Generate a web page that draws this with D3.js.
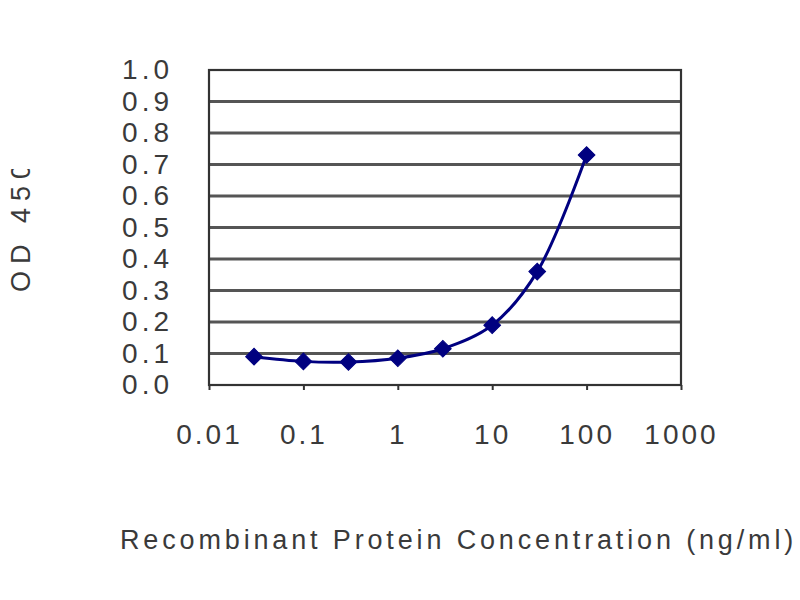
<!DOCTYPE html>
<html>
<head>
<meta charset="utf-8">
<script src="https://cdn.jsdelivr.net/npm/d3@7"></script>
<style>
  body { margin: 0; background: #fff; }
  svg { font-family: "Liberation Sans", Arial, sans-serif; }
  .tick text { fill: #3a3a3a; }
</style>
</head>
<body>
<svg id="chart" width="800" height="600"></svg>
<script>
// concentrations (ng/ml) and OD readings
const concentrations = [0.03, 0.1, 0.3, 1, 3, 10, 30, 100];
const odValues = [0.09, 0.075, 0.073, 0.085, 0.115, 0.19, 0.36, 0.73];
const xTicks = [0.01, 0.1, 1, 10, 100, 1000];
const yTicks = [0, 0.1, 0.2, 0.3, 0.4, 0.5, 0.6, 0.7, 0.8, 0.9, 1.0];

const plotLeft = 209, plotRight = 681, plotTop = 70, plotBottom = 385;
const svg = d3.select('#chart');

const x = d3.scaleLog().domain([0.01, 1000]).range([plotLeft, plotRight]);
const y = d3.scaleLinear().domain([0, 1]).range([plotBottom, plotTop]);

// grid lines
svg.append('g')
  .selectAll('line')
  .data(yTicks.slice(1, -1))
  .enter()
  .append('line')
  .attr('x1', plotLeft).attr('x2', plotRight)
  .attr('y1', d => y(d)).attr('y2', d => y(d))
  .attr('stroke', '#555')
  .attr('stroke-width', 2.8);

// frame
svg.append('rect')
  .attr('x', plotLeft).attr('y', plotTop)
  .attr('width', plotRight - plotLeft).attr('height', plotBottom - plotTop)
  .attr('fill', 'none')
  .attr('stroke', '#333')
  .attr('stroke-width', 2.2);

// y axis labels
svg.append('g')
  .attr('transform', `translate(${plotLeft}, 0)`)
  .call(d3.axisLeft(y).tickValues(yTicks).tickFormat(d3.format('.1f')).tickSize(0).tickPadding(40))
  .call(g => g.select('.domain').remove())
  .selectAll('text')
  .attr('font-size', 28)
  .attr('letter-spacing', 4)
  .attr('dx', 4);

// x axis ticks + labels
const xAxis = svg.append('g')
  .attr('transform', `translate(0, ${plotBottom})`)
  .call(d3.axisBottom(x).tickValues(xTicks).tickFormat(d => String(d)).tickSize(5).tickPadding(34));
xAxis.select('.domain').remove();
xAxis.selectAll('line').attr('stroke', '#333').attr('stroke-width', 2);
xAxis.selectAll('text')
  .attr('font-size', 28)
  .attr('letter-spacing', 3);

// axis titles (y title is cut off at the top like in the source chart)
svg.append('defs').append('clipPath').attr('id', 'yclip')
  .append('rect').attr('x', 0).attr('y', 169).attr('width', 60).attr('height', 200);

svg.append('g')
  .attr('clip-path', 'url(#yclip)')
  .append('text')
  .attr('transform', 'translate(30, 292) rotate(-90)')
  .attr('font-size', 27)
  .attr('letter-spacing', 7)
  .attr('fill', '#3a3a3a')
  .text('OD 450');

svg.append('text')
  .attr('x', 120)
  .attr('y', 549)
  .attr('font-size', 27)
  .attr('letter-spacing', 3.85)
  .attr('fill', '#3a3a3a')
  .text('Recombinant Protein Concentration (ng/ml)');

// curve
const pts = concentrations.map((c, i) => [c, odValues[i]]);
const line = d3.line()
  .x(d => x(d[0]))
  .y(d => y(d[1]))
  .curve(d3.curveCatmullRom.alpha(0.5));

svg.append('path')
  .datum(pts)
  .attr('d', line)
  .attr('fill', 'none')
  .attr('stroke', '#000080')
  .attr('stroke-width', 3);

// diamond markers
svg.append('g')
  .selectAll('path')
  .data(pts)
  .enter()
  .append('path')
  .attr('transform', d => `translate(${x(d[0])}, ${y(d[1])}) rotate(45)`)
  .attr('d', d3.symbol().type(d3.symbolSquare).size(140))
  .attr('fill', '#000080')
  .attr('stroke', '#000080')
  .attr('stroke-width', 1);
</script>
</body>
</html>
